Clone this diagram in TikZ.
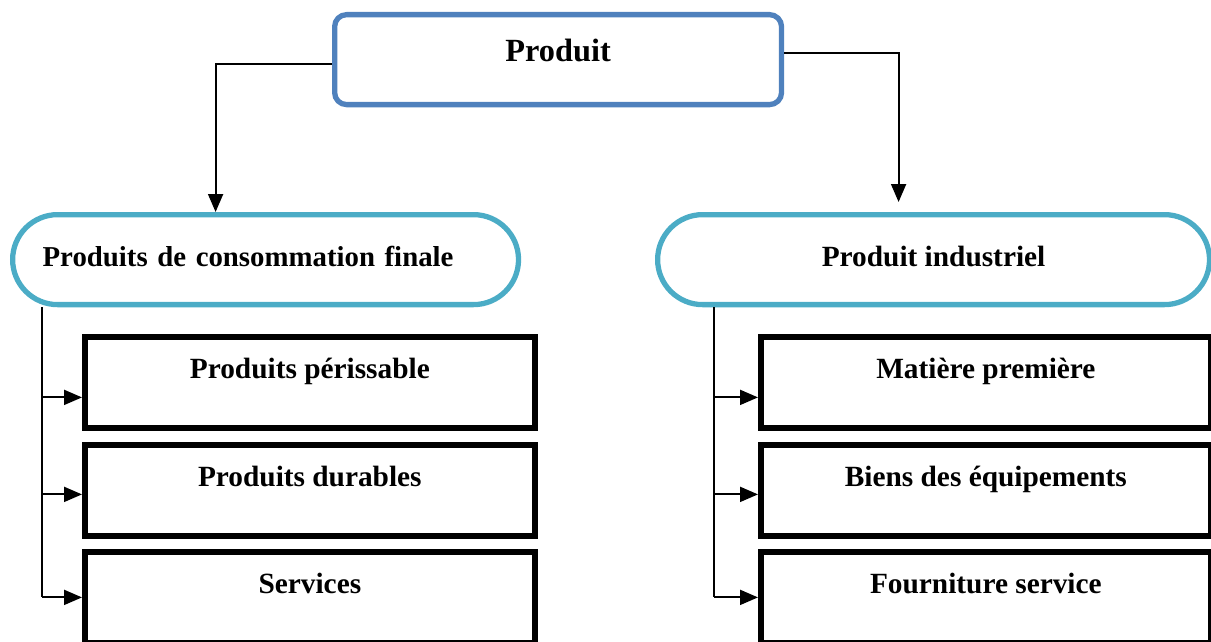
\documentclass[tikz,border=0pt]{standalone}
\usepackage{fontspec}
\setmainfont{Liberation Serif}
\usetikzlibrary{arrows.meta}
\definecolor{topblue}{HTML}{4F81BD}
\definecolor{catblue}{HTML}{4BACC6}
\begin{document}
\begin{tikzpicture}[x=0.02cm, y=-0.02cm,
  every node/.style={font=\fontsize{16.7}{20}\selectfont\bfseries, line width=3pt, inner ysep=0pt, anchor=north west},
  prodbox/.style={draw=topblue, rounded corners=0.24cm, minimum width=8.94cm, text height=0.94cm, text depth=0.86cm, font=\fontsize{18.4}{22}\selectfont\bfseries},
  catbox/.style={draw=catblue, rounded corners=0.9cm, text height=1.04cm, text depth=0.76cm},
  subbox/.style={draw=black, line width=3.3pt, minimum width=9cm, text height=0.84cm, text depth=0.98cm},
  arr/.style={-{Triangle[length=0.36cm,width=0.3cm]}, line width=1.1pt}]
\useasboundingbox (0,0) rectangle (1211,642);
\node[prodbox] (prod) at (332,12) {Produit};
\node[catbox, text width=8.92cm, inner xsep=0.6cm, align=left, font=\fontsize{16.4}{20}\selectfont\bfseries] (conso) at (10,212) {Produits de consommation finale};
\node[catbox, minimum width=11.04cm] (indus) at (655,212) {Produit industriel};
\node[subbox] (c1) at (82,334) {Produits périssable};
\node[subbox] (c2) at (82,442) {Produits durables};
\node[subbox] (c3) at (82,549) {Services};
\node[subbox] (i1) at (758,334) {Matière première};
\node[subbox] (i2) at (758,442) {Biens des équipements};
\node[subbox] (i3) at (758,549) {Fourniture service};
\coordinate (lt) at (42,0);
\coordinate (rt) at (714,0);
\draw[arr] ([yshift=-0.08cm]prod.west) -| ([xshift=-1cm]conso.north);
\draw[arr, shorten >=0.2cm] ([yshift=0.14cm]prod.east) -| ([xshift=-0.7cm]indus.north);
\draw[line width=1.1pt] (lt |- conso.south) -- (lt |- c3.west);
\draw[line width=1.1pt] (rt |- indus.south) -- (rt |- i3.west);
\draw[arr] (lt |- c1.west) ++(0,15) -- ++(40,0);
\draw[arr] (lt |- c2.west) ++(0,4) -- ++(40,0);
\draw[arr] (lt |- c3.west) -- (c3.west);
\draw[arr] (rt |- i1.west) ++(0,15) -- ++(44,0);
\draw[arr] (rt |- i2.west) ++(0,4) -- ++(44,0);
\draw[arr] (rt |- i3.west) -- (i3.west);
\end{tikzpicture}
\end{document}
